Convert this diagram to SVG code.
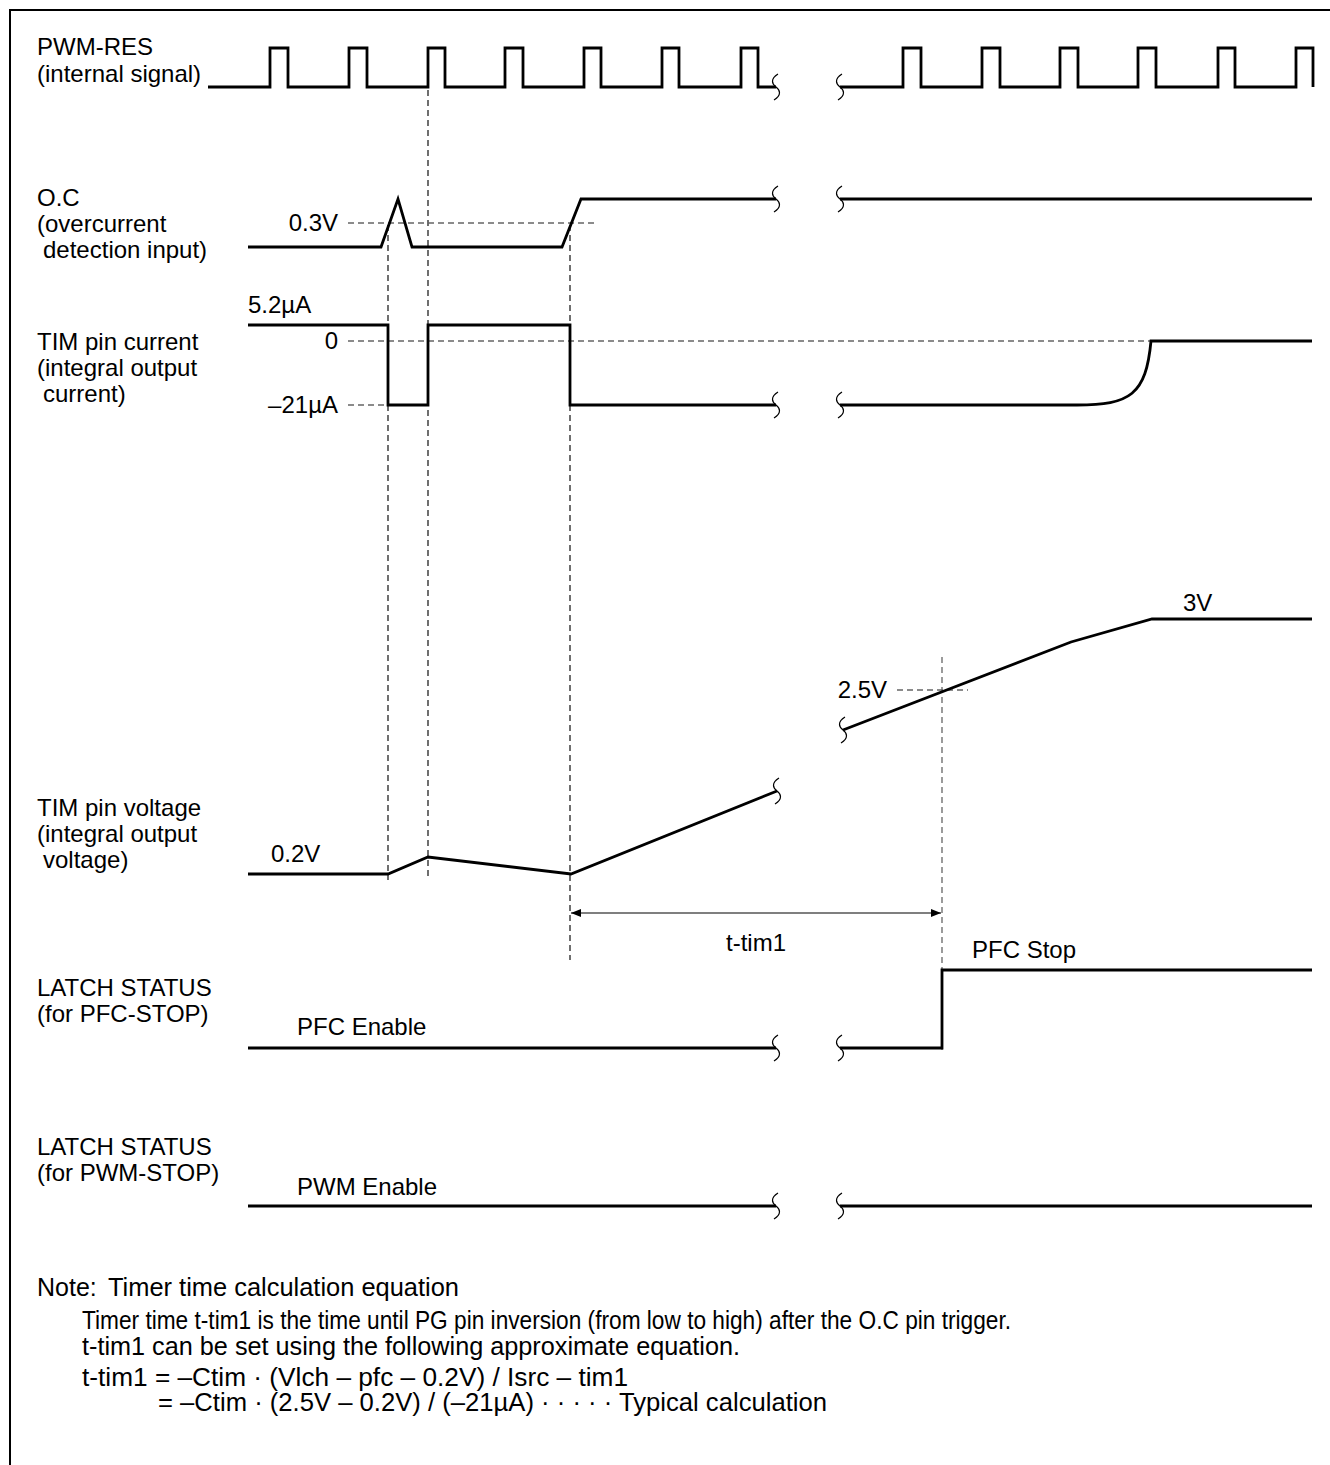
<svg xmlns="http://www.w3.org/2000/svg" width="1330" height="1465" viewBox="0 0 1330 1465">
<style>
text{font-family:"Liberation Sans",Arial,sans-serif;font-size:24px;fill:#000}
.nt{font-size:25px}
.sig{fill:none;stroke:#000;stroke-width:2.8;stroke-linejoin:miter}
.brk{fill:none;stroke:#000;stroke-width:1.2}
.vd{fill:none;stroke:#222;stroke-width:1.3;stroke-dasharray:6,4}
.hd{fill:none;stroke:#666;stroke-width:1.3;stroke-dasharray:6,4}
.frame{fill:none;stroke:#000;stroke-width:2}
.dim{fill:none;stroke:#000;stroke-width:1.2}
.r{text-anchor:end}
</style>
<defs>
<path id="bk" class="brk" d="M2,-13 C-6,-8 -4,-3 0,0 C4,3 6,8 -2,13"/>
<marker id="ah" viewBox="0 0 10 8" refX="10" refY="4" markerWidth="10" markerHeight="8" markerUnits="userSpaceOnUse" orient="auto-start-reverse">
<path d="M0,0 L10,4 L0,8 Z" fill="#000"/>
</marker>
</defs>
<path class="frame" d="M10,1465 L10,10 L1330,10"/>

<g id="guides">
<path class="vd" d="M388,225 V880"/>
<path class="vd" d="M428,90 V880"/>
<path class="vd" d="M570,225 V960"/>
<path class="hd" d="M942,657 V1050"/>
<path class="hd" d="M348,223 H595"/>
<path class="hd" d="M348,341 H1150"/>
<path class="hd" d="M348,405 H388"/>
<path class="hd" d="M897,690 H968"/>
</g>

<g id="pwm-res">
<text x="37" y="55">PWM-RES</text>
<text x="37" y="82">(internal signal)</text>
<path class="sig" d="M208,87 H270 V48 H288 V87 H349 V48 H367 V87 H428 V48 H445 V87 H505 V48 H523 V87 H584 V48 H601 V87 H662 V48 H679 V87 H741 V48 H758 V87 H776"/>
<use href="#bk" x="776" y="87"/>
<use href="#bk" x="840" y="87"/>
<path class="sig" d="M840,87 H903 V48 H921 V87 H982 V48 H1000 V87 H1060 V48 H1078 V87 H1138 V48 H1156 V87 H1218 V48 H1235 V87 H1296 V48 H1313 V87"/>
</g>

<g id="oc">
<text x="37" y="206">O.C</text>
<text x="37" y="232">(overcurrent</text>
<text x="43" y="258">detection input)</text>
<text class="r" x="338" y="231">0.3V</text>
<path class="sig" d="M248,247 H381 L398,199 L412,247 H562 L581,199 H776"/>
<use href="#bk" x="776" y="199"/>
<use href="#bk" x="840" y="199"/>
<path class="sig" d="M840,199 H1312"/>
</g>

<g id="tim-current">
<text x="248" y="313">5.2µA</text>
<text class="r" x="338" y="349">0</text>
<text class="r" x="338" y="413">–21µA</text>
<text x="37" y="350">TIM pin current</text>
<text x="37" y="376">(integral output</text>
<text x="43" y="402">current)</text>
<path class="sig" d="M248,325 H388 V405 H428 V325 H570 V405 H776"/>
<use href="#bk" x="776" y="405"/>
<use href="#bk" x="840" y="405"/>
<path class="sig" d="M840,405 H1077 C1130,405 1146,395 1151,341 H1312"/>
</g>

<g id="tim-voltage">
<text x="37" y="816">TIM pin voltage</text>
<text x="37" y="842">(integral output</text>
<text x="43" y="868">voltage)</text>
<text x="271" y="862">0.2V</text>
<text class="r" x="887" y="698">2.5V</text>
<text x="1183" y="611">3V</text>
<path class="sig" d="M248,874 H388 L428,857 L571,874 L777,791"/>
<use href="#bk" x="777" y="791"/>
<use href="#bk" x="843" y="730"/>
<path class="sig" d="M843,730 L1071,642 L1152,619 H1312"/>
</g>

<g id="connectors">
<path class="dim" d="M571,913 H941" marker-start="url(#ah)" marker-end="url(#ah)"/>
<text x="756" y="951" text-anchor="middle">t-tim1</text>
</g>

<g id="latch-pfc">
<text x="37" y="996">LATCH STATUS</text>
<text x="37" y="1022">(for PFC-STOP)</text>
<text x="297" y="1035">PFC Enable</text>
<text x="972" y="958">PFC Stop</text>
<path class="sig" d="M248,1048 H776"/>
<use href="#bk" x="776" y="1048"/>
<use href="#bk" x="840" y="1048"/>
<path class="sig" d="M840,1048 H942 V970 H1312"/>
</g>

<g id="latch-pwm">
<text x="37" y="1155">LATCH STATUS</text>
<text x="37" y="1181">(for PWM-STOP)</text>
<text x="297" y="1195">PWM Enable</text>
<path class="sig" d="M248,1206 H776"/>
<use href="#bk" x="776" y="1206"/>
<use href="#bk" x="840" y="1206"/>
<path class="sig" d="M840,1206 H1312"/>
</g>

<g id="note">
<text class="nt" x="37" y="1296">Note:</text>
<text class="nt" x="108" y="1296" textLength="351" lengthAdjust="spacingAndGlyphs">Timer time calculation equation</text>
<text class="nt" x="82" y="1329" textLength="929" lengthAdjust="spacingAndGlyphs">Timer time t-tim1 is the time until PG pin inversion (from low to high) after the O.C pin trigger.</text>
<text class="nt" x="82" y="1355" textLength="658" lengthAdjust="spacingAndGlyphs">t-tim1 can be set using the following approximate equation.</text>
<text class="nt" x="82" y="1386" textLength="546" lengthAdjust="spacingAndGlyphs">t-tim1 = –Ctim · (Vlch – pfc – 0.2V) / Isrc – tim1</text>
<text class="nt" x="158" y="1411" textLength="669" lengthAdjust="spacingAndGlyphs">= –Ctim · (2.5V – 0.2V) / (–21µA) · · · · · Typical calculation</text>
</g>
</svg>
